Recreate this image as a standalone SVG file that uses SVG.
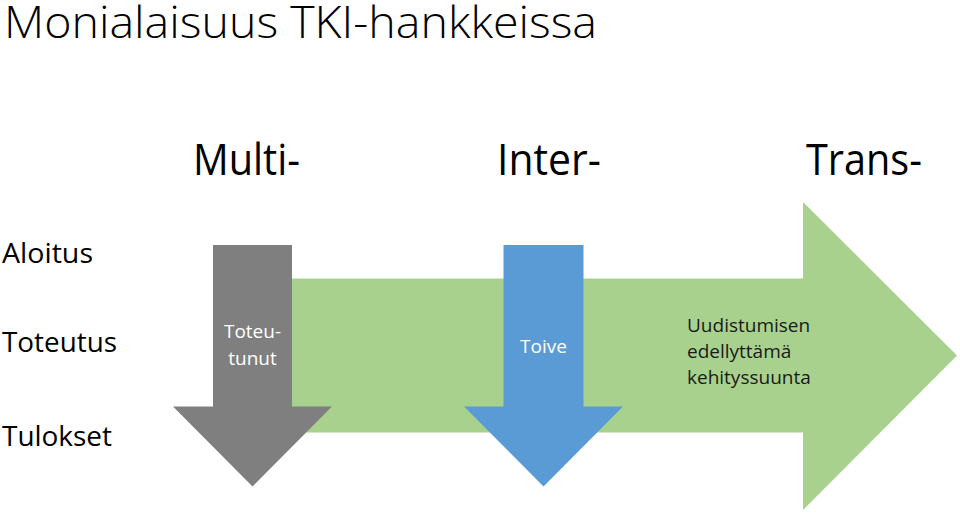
<svg xmlns="http://www.w3.org/2000/svg" width="960" height="515" viewBox="0 0 960 515">
<style>
text{font-family:"Open Sans","Liberation Sans",sans-serif}
.t{font-size:44px;font-weight:300;fill:#000}
.h{font-size:44px;font-weight:400;fill:#000}
.r{font-size:28px;fill:#000}
.w{font-size:19px;fill:#fff;text-anchor:middle}
.d{font-size:19px;fill:#1a1a1a}
</style>
<rect width="960" height="515" fill="#fff"/>
<text class="t" x="4" y="38" textLength="593" lengthAdjust="spacingAndGlyphs">Monialaisuus TKI-hankkeissa</text>
<g id="headings">
<text class="h" x="193" y="175" textLength="107" lengthAdjust="spacingAndGlyphs">Multi-</text>
<text class="h" x="497" y="175" textLength="104" lengthAdjust="spacingAndGlyphs">Inter-</text>
<text class="h" x="806" y="175" textLength="116" lengthAdjust="spacingAndGlyphs">Trans-</text>
</g>
<g id="rows">
<text class="r" x="2" y="263" textLength="91" lengthAdjust="spacingAndGlyphs">Aloitus</text>
<text class="r" x="2" y="352" textLength="115" lengthAdjust="spacingAndGlyphs">Toteutus</text>
<text class="r" x="2" y="446" textLength="110" lengthAdjust="spacingAndGlyphs">Tulokset</text>
</g>
<g id="green-arrow">
<polygon points="260,278.5 803,278.5 803,202 957,355.5 803,510 803,432.5 260,432.5" fill="#a9d18e"/>
<text class="d" x="687" y="332">Uudistumisen</text>
<text class="d" x="687" y="358">edellyttämä</text>
<text class="d" x="687" y="384">kehityssuunta</text>
</g>
<g id="gray-arrow">
<polygon points="213,245 292,245 292,406.5 332,406.5 252.5,486.5 173,406.5 213,406.5" fill="#7f7f7f"/>
<text class="w" x="252.5" y="338">Toteu-</text>
<text class="w" x="252.5" y="365">tunut</text>
</g>
<g id="blue-arrow">
<polygon points="503.5,245 583.5,245 583.5,406.5 623,406.5 543.5,486.5 464,406.5 503.5,406.5" fill="#5b9bd5"/>
<text class="w" x="543.5" y="353">Toive</text>
</g>
</svg>
